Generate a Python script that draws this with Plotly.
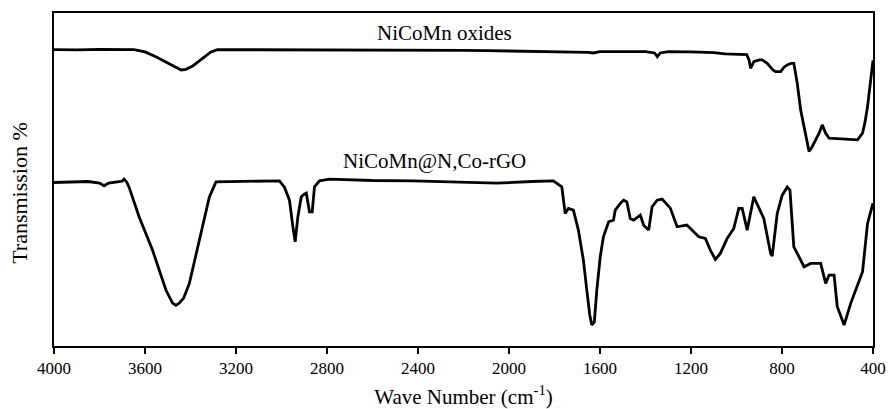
import plotly.graph_objects as go

# NiCoMn oxides (upper spectrum)
wn_oxide = [4000, 3900, 3800, 3700, 3648, 3600, 3550, 3500, 3460, 3441, 3420, 3390, 3350, 3310, 3282,
            3200, 3000, 2800, 2600, 2400, 2200, 2100, 2000, 1850, 1700, 1650, 1630, 1600, 1500, 1400,
            1360, 1348, 1335, 1300, 1200, 1100, 1050, 1000, 955, 945, 938, 924, 900, 887, 865, 840,
            828, 806, 790, 777, 760, 748, 733, 718, 700, 681, 670, 660, 637, 623, 608, 593, 550,
            500, 468, 446, 435, 424, 410, 402, 400]
t_oxide = [89.0, 88.9, 89.1, 89.0, 89.0, 88.3, 86.8, 85.0, 83.5, 82.9, 83.1, 84.1, 86.2, 88.3, 89.0,
           89.0, 89.0, 88.9, 89.0, 88.9, 88.8, 88.7, 88.6, 88.6, 88.4, 88.2, 88.0, 88.4, 88.4, 88.4,
           88.0, 86.9, 88.0, 88.4, 88.3, 88.1, 87.7, 87.7, 87.5, 85.9, 83.4, 85.4, 85.9, 85.9, 84.9, 82.9,
           82.4, 82.4, 83.8, 84.4, 84.9, 84.9, 78.9, 70.9, 64.3, 58.4, 59.5, 60.9, 63.9, 66.4, 63.9, 62.4, 62.2,
           62.0, 61.9, 63.9, 67.3, 71.9, 79.9, 84.9, 85.8]

# NiCoMn@N,Co-rGO (lower spectrum)
wn_rgo = [4000, 3950, 3900, 3850, 3800, 3780, 3760, 3720, 3700, 3692, 3680, 3670, 3626, 3567, 3508,
          3479, 3464, 3449, 3430, 3405, 3361, 3317, 3288, 3200, 3100, 3009, 2987, 2965, 2950, 2940, 2928,
          2913, 2900, 2891, 2877, 2865, 2855, 2833, 2789, 2600, 2422, 2200, 2054, 1900, 1805, 1768,
          1753, 1739, 1717, 1695, 1673, 1658, 1645, 1636, 1625, 1614, 1599, 1585, 1562, 1541, 1533,
          1510, 1496, 1482, 1467, 1452, 1423, 1408, 1386, 1371, 1349, 1327, 1291, 1261, 1218, 1188,
          1166, 1137, 1115, 1093, 1071, 1041, 1012, 990, 975, 953, 924, 880, 850, 843, 821, 799, 777,
          765, 748, 703, 674, 630, 608, 593, 571, 557, 527, 498, 461, 446, 424, 402, 400]
t_rgo = [49.1, 49.2, 49.1, 49.4, 48.9, 48.1, 48.9, 49.2, 49.5, 50.1, 49.2, 47.7, 38.8, 28.8, 16.8,
         12.9, 12.2, 12.9, 14.4, 18.8, 31.8, 44.8, 49.3, 49.4, 49.5, 49.6, 47.7, 43.8, 35.8, 31.3, 38.8,
         44.8, 45.6, 45.9, 40.3, 40.3, 47.8, 49.6, 50.1, 49.7, 49.6, 49.1, 48.9, 49.4, 49.6, 47.8,
         39.8, 41.3, 40.8, 34.8, 25.8, 16.8, 9.3, 6.3, 7.2, 16.8, 26.8, 32.8, 37.3, 37.8, 40.8,
         42.9, 43.8, 43.3, 38.3, 37.8, 39.3, 36.3, 34.8, 41.8, 43.8, 44.1, 41.4, 35.8, 36.3, 34.3,
         32.8, 32.3, 28.8, 26.0, 27.8, 32.3, 35.3, 41.3, 41.3, 34.8, 44.8, 38.3, 27.8, 27.0, 39.8, 45.3, 47.7,
         46.8, 29.8, 23.8, 24.8, 24.8, 18.8, 21.3, 21.3, 11.8, 6.3, 12.8, 19.8, 22.3, 36.8, 42.3, 42.9]

tick_vals = [4000, 3600, 3200, 2800, 2400, 2000, 1600, 1200, 800, 400]
tick_text = ["4000", "3600", "3200", "2800", "2400", "2000", "1600", "1200", "800", "400"]

labels = ["NiCoMn oxides", "NiCoMn@N,Co-rGO"]
label_x = [2282, 2326]
label_y = [94.0, 55.6]

x_title = "Wave Number (cm<sup>-1</sup>)"
y_title = "Transmission %"

font_family = "Liberation Serif"

fig = go.Figure()
fig.add_trace(go.Scatter(x=wn_oxide, y=t_oxide, mode="lines",
                         line=dict(color="black", width=2.8), name=labels[0], showlegend=False))
fig.add_trace(go.Scatter(x=wn_rgo, y=t_rgo, mode="lines",
                         line=dict(color="black", width=2.8), name=labels[1], showlegend=False))

for txt, lx, ly in zip(labels, label_x, label_y):
    fig.add_annotation(x=lx, y=ly, xref="x", yref="y", text=txt, showarrow=False,
                       font=dict(family=font_family, size=21, color="black"),
                       xanchor="center", yanchor="middle")

# vertical axis title placed as rotated text (slightly below the plot centre, as in the source)
fig.add_annotation(x=-0.0415, y=0.46, xref="paper", yref="paper", text=y_title,
                   textangle=-90, showarrow=False, xanchor="center", yanchor="middle",
                   font=dict(family=font_family, size=22, color="black"))

fig.update_layout(
    width=888, height=409,
    margin=dict(l=54, r=15, t=13, b=63),
    paper_bgcolor="white", plot_bgcolor="white",
    font=dict(family=font_family, color="black"),
)
fig.update_xaxes(
    range=[4000, 400], tickvals=tick_vals, ticktext=tick_text,
    ticks="outside", ticklen=6, tickwidth=1.5, tickcolor="black",
    showline=True, linecolor="black", linewidth=2, mirror=True,
    showgrid=False, zeroline=False,
    tickfont=dict(family=font_family, size=17, color="black"),
    title=dict(text=x_title, standoff=12,
               font=dict(family=font_family, size=21, color="black")),
    automargin=False,
)
fig.update_yaxes(
    range=[0, 100], showticklabels=False, ticks="",
    showline=True, linecolor="black", linewidth=2, mirror=True,
    showgrid=False, zeroline=False,
    automargin=False,
)

fig.write_html("out.html")
